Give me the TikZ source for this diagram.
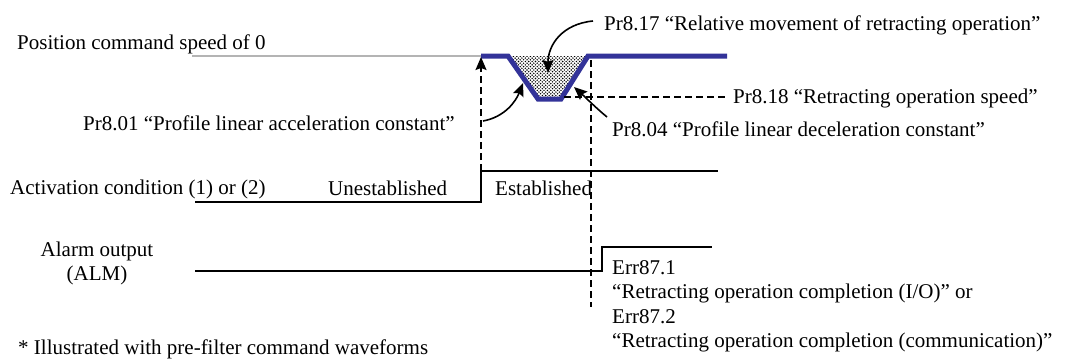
\documentclass[tikz,border=0pt]{standalone}
\usepackage{fontspec}
\setmainfont{Liberation Serif}
\usetikzlibrary{arrows.meta,patterns}
\definecolor{wave}{RGB}{51,51,153}
\definecolor{zeroline}{RGB}{180,180,180}
\pgfdeclarepatternformonly{stipple}{\pgfqpoint{-1pt}{-1pt}}{\pgfqpoint{4.5pt}{4.5pt}}{\pgfqpoint{3.4pt}{3.4pt}}{
  \pgfpathcircle{\pgfqpoint{0pt}{0pt}}{0.8pt}
  \pgfpathcircle{\pgfqpoint{1.7pt}{1.7pt}}{0.8pt}
  \pgfusepath{fill}}
\tikzset{
  lbl/.style={inner sep=0pt, anchor=base west, font=\fontsize{21}{24.5}\selectfont},
  sig/.style={line width=2pt, black},
  guide/.style={line width=1.6pt, dash pattern=on 7pt off 4pt},
  callout/.style={line width=1.6pt, -{Stealth[length=13pt,width=11pt,inset=2pt]}},
  bluewave/.style={line width=5pt, wave, line join=miter},
}
\begin{document}
\begin{tikzpicture}[x=1pt,y=-1pt]
\useasboundingbox (0,0) rectangle (1067,359);
% texts
\node[lbl] (pos) at (17,49) {Position command speed of 0};
\node[lbl] (p817) at (604,30) {Pr8.17 “Relative movement of retracting operation”};
\node[lbl] (p801) at (83,130) {Pr8.01 “Profile linear acceleration constant”};
\node[lbl] (p818) at (733,103) {Pr8.18 “Retracting operation speed”};
\node[lbl] (p804) at (612,136) {Pr8.04 “Profile linear deceleration constant”};
\node[lbl] (act) at (10,194) {Activation condition (1) or (2)};
\node[lbl] (unest) at (328,195) {Unestablished};
\node[lbl] (est) at (495,195) {Established};
\node[lbl, anchor=base, align=center, font=\fontsize{21}{24}\selectfont] (alm) at (97,280) {Alarm output\\(ALM)};
\node[lbl, align=left] (err) at (612,347.5) {Err87.1\\“Retracting operation completion (I/O)” or\\Err87.2\\“Retracting operation completion (communication)”};
\node[lbl] (note) at (18,354) {* Illustrated with pre-filter command waveforms};
% coordinates
\coordinate (z0) at (192,56);
\coordinate (b0) at (481,56);
\coordinate (b1) at (508,56);
\coordinate (b2) at (538,99);
\coordinate (b3) at (561,99);
\coordinate (b4) at (588,56);
\coordinate (b5) at (727,56);
% zero speed line
\draw[zeroline, line width=1.5pt] (z0) -- (b0);
% dotted area
\fill[pattern=stipple, pattern color=black] (b1) -- (b2) -- (b3) -- (b4) -- cycle;
% blue waveform
\draw[bluewave] (b0) -- (b1) -- (b2) -- (b3) -- (b4) -- (b5);
% activation signal
\coordinate (a0) at (195,202);
\coordinate (a1) at (481,202);
\coordinate (a2) at (481,171);
\coordinate (a3) at (718,171);
\draw[sig] (a0) -- (a1) -- (a2) -- (a3);
% alarm signal
\coordinate (m0) at (195,271);
\coordinate (m1) at (602,271);
\coordinate (m2) at (602,247);
\coordinate (m3) at (712,247);
\draw[sig] (m0) -- (m1) -- (m2) -- (m3);
% guides
\coordinate (g1top) at (481,57);
\draw[guide, -{Stealth[length=13pt,width=11pt,inset=2pt]}] (a2) -- (g1top);
\coordinate (g2top) at (591,60);
\coordinate (g2bot) at (591,307);
\draw[guide] (g2top) -- (g2bot);
\coordinate (h0) at (564,97);
\coordinate (h1) at (728,97);
\draw[guide] (h0) -- (h1);
% callout arrows
\coordinate (t817) at (548,73);
\draw[callout] (593,21) .. controls (562,24) and (548,45) .. (t817);
\coordinate (t801) at (523,83);
\draw[callout] (483,121) .. controls (505,117) and (516,101) .. (t801);
\coordinate (t804) at (574,87);
\draw[callout] (607,117) .. controls (596,108) and (584,96) .. (t804);
\end{tikzpicture}
\end{document}
